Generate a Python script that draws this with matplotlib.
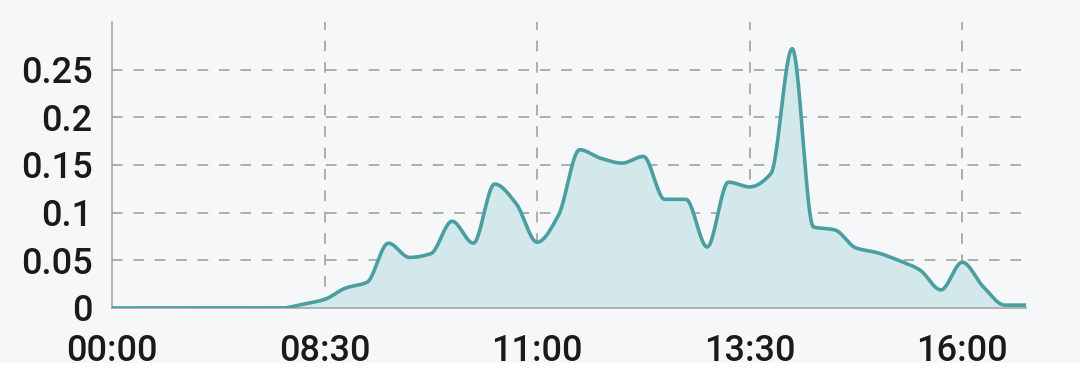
import numpy as np
import matplotlib
matplotlib.use("Agg")
import matplotlib.pyplot as plt
from matplotlib.patches import Rectangle

# one value every data slot; labels shown every 10 slots
values = [0, 0, 0, 0, 0, 0, 0, 0, 0, 0.004,
          0.009, 0.021, 0.027, 0.068, 0.053, 0.057, 0.091, 0.068, 0.130, 0.110,
          0.069, 0.097, 0.166, 0.157, 0.152, 0.159, 0.114, 0.114, 0.064, 0.132,
          0.127, 0.141, 0.272, 0.085, 0.082, 0.063, 0.058, 0.050, 0.040, 0.019,
          0.048, 0.022, 0.003, 0.003]
tick_pos = [0, 10, 20, 30, 40]
tick_labels = ["00:00", "08:30", "11:00", "13:30", "16:00"]
y_ticks = [0, 0.05, 0.1, 0.15, 0.2, 0.25]
y_labels = ["0", "0.05", "0.1", "0.15", "0.2", "0.25"]

LINE = "#4b9fa1"
FILL = "#d3e8ea"
BG = "#f5f7f9"
GRID = "#9a9a9a"


def smooth(x, y, n=24):
    # monotone cubic (Fritsch-Carlson) so peaks stay at the data points
    x = np.asarray(x, float); y = np.asarray(y, float)
    h = np.diff(x); d = np.diff(y) / h
    m = np.zeros_like(y)
    m[0], m[-1] = d[0], d[-1]
    for k in range(1, len(y) - 1):
        if d[k - 1] * d[k] > 0:
            m[k] = 2.0 / (1.0 / d[k - 1] + 1.0 / d[k])
    xs, ys = [], []
    for k in range(len(h)):
        t = np.linspace(0, 1, n, endpoint=False)
        h00 = 2*t**3 - 3*t**2 + 1; h10 = t**3 - 2*t**2 + t
        h01 = -2*t**3 + 3*t**2;   h11 = t**3 - t**2
        xs.append(x[k] + t * h[k])
        ys.append(h00*y[k] + h10*h[k]*m[k] + h01*y[k+1] + h11*h[k]*m[k+1])
    xs.append([x[-1]]); ys.append([y[-1]])
    return np.concatenate(xs), np.concatenate(ys)


x = np.arange(len(values))
xs, ys = smooth(x, values)

fig = plt.figure(figsize=(10.8, 3.78), dpi=100)
fig.patch.set_facecolor("white")
fig.add_artist(Rectangle((0, 0.04), 1, 0.96, transform=fig.transFigure,
                         facecolor=BG, edgecolor="none", zorder=-10))
ax = fig.add_axes([0.1037, 0.1852, 0.8463, 0.7566])
ax.set_facecolor(BG)
ax.patch.set_alpha(0)

ax.fill_between(xs, 0, ys, color=FILL, lw=0, zorder=2)
ax.plot(xs, ys, color=LINE, lw=2.6, solid_capstyle="round", zorder=3)

ax.set_xlim(0, len(values) - 1)
ax.set_ylim(0, 0.3)
ax.set_xticks(tick_pos, tick_labels)
ax.set_yticks(y_ticks, y_labels)

for yv in y_ticks[1:]:
    ax.axhline(yv, color=GRID, lw=1.1, ls=(0, (7, 7)), zorder=1)
for xv in tick_pos[1:]:
    ax.axvline(xv, color=GRID, lw=1.1, ls=(0, (7, 7)), zorder=1)

for s in ["top", "right"]:
    ax.spines[s].set_visible(False)
for s in ["left", "bottom"]:
    ax.spines[s].set_color("#a8a8a8")
    ax.spines[s].set_linewidth(1.2)

ax.tick_params(axis="both", length=0, labelsize=26, colors="#1a1a1a")
ax.tick_params(axis="y", pad=14)
ax.tick_params(axis="x", pad=19)
for lab in ax.get_xticklabels() + ax.get_yticklabels():
    lab.set_fontfamily("Roboto")
    lab.set_fontweight("medium")

fig.savefig("out.png", dpi=100, facecolor=fig.get_facecolor())
